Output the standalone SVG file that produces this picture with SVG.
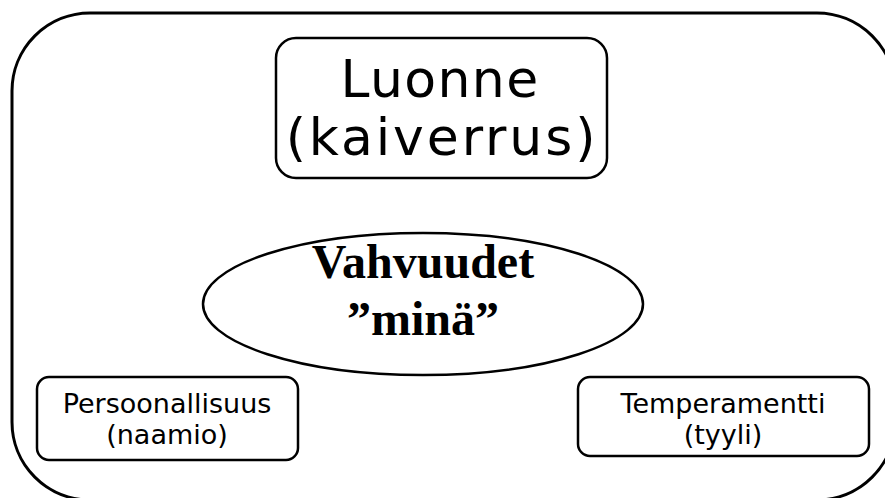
<svg xmlns="http://www.w3.org/2000/svg" width="885" height="498" viewBox="0 0 885 498">
<style>
.box{fill:#fff;stroke:#000;stroke-width:2.5}
.sans{font-family:"DejaVu Sans","Liberation Sans",sans-serif;fill:#000;text-anchor:middle}
.serif{font-family:"Liberation Serif","Times New Roman",serif;font-weight:bold;fill:#000;text-anchor:middle}
</style>
<rect width="885" height="498" fill="#fff"/>
<g id="frame"><rect x="12" y="13" width="883" height="487" rx="78" ry="78" fill="none" stroke="#000" stroke-width="3"/></g>
<g id="connectors"></g>
<g id="luonne">
<rect class="box" x="276" y="38" width="331" height="140" rx="20" ry="20"/>
<text class="sans" x="440" y="97" font-size="52" letter-spacing="1.4">Luonne</text>
<text class="sans" x="442" y="155" font-size="52" letter-spacing="2.9">(kaiverrus)</text>
</g>
<g id="vahvuudet">
<ellipse class="box" cx="423" cy="304" rx="220" ry="71"/>
<text class="serif" x="423" y="278" font-size="48">Vahvuudet</text>
<text class="serif" x="423" y="335" font-size="48">”minä”</text>
</g>
<g id="persoonallisuus">
<rect class="box" x="37" y="377" width="261" height="83" rx="12" ry="12"/>
<text class="sans" x="167" y="413" font-size="27">Persoonallisuus</text>
<text class="sans" x="167" y="444" font-size="27">(naamio)</text>
</g>
<g id="temperamentti">
<rect class="box" x="578" y="377" width="291" height="79" rx="12" ry="12"/>
<text class="sans" x="723" y="413" font-size="27">Temperamentti</text>
<text class="sans" x="723" y="444" font-size="27">(tyyli)</text>
</g>
</svg>
